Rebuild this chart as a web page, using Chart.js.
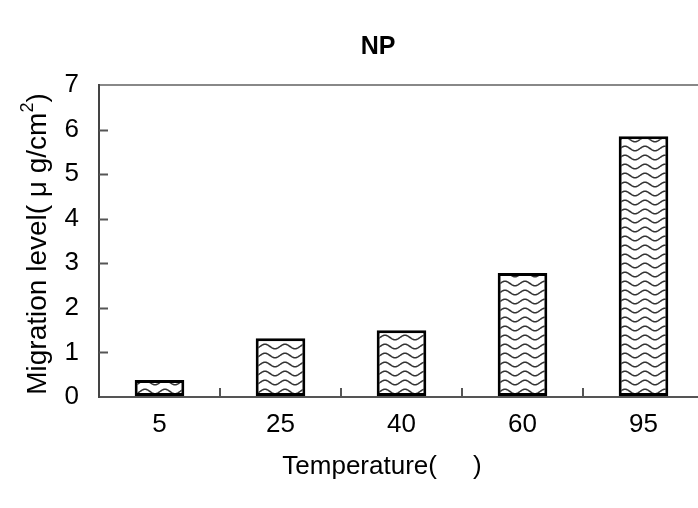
<!DOCTYPE html>
<html>
<head>
<meta charset="utf-8">
<script src="https://cdn.jsdelivr.net/npm/chart.js@4"></script>
<style>
  html, body { margin: 0; padding: 0; background: #fff; overflow: hidden; }
  canvas { display: block; }
</style>
</head>
<body>
<canvas id="grafico" width="704" height="508"></canvas>
<script>
// Datos del gráfico
const temperaturas = ['5', '25', '40', '60', '95'];
const migracion = [0.38, 1.32, 1.50, 2.78, 5.85];
const ticksY = [0, 1, 2, 3, 4, 5, 6, 7];

const fuente = '"Liberation Sans", Arial, sans-serif';
const tamFuente = 26;

// Patrón ondulado para rellenar las barras
function crearPatron() {
    const c = document.createElement('canvas');
    c.width = 20;
    c.height = 9;
    const g = c.getContext('2d');
    g.fillStyle = '#fff';
    g.fillRect(0, 0, 20, 9);
    g.strokeStyle = '#333';
    g.lineWidth = 1.6;
    g.beginPath();
    for (let x = 0; x <= 20; x++) {
        const y = 4.5 - 2.3 * Math.sin(2 * Math.PI * x / 20);
        if (x === 0) g.moveTo(x, y); else g.lineTo(x, y);
    }
    g.stroke();
    return g.createPattern(c, 'repeat');
}

// Marcas hacia dentro y títulos
const extras = {
    id: 'extras',
    afterDraw(chart) {
        const ctx = chart.ctx;
        const x = chart.scales.x;
        const y = chart.scales.y;
        const area = chart.chartArea;
        ctx.save();
        ctx.strokeStyle = '#555';
        ctx.lineWidth = 2;
        ticksY.slice(1, -1).forEach(v => {
            const py = Math.round(y.getPixelForValue(v)) + 0.5;
            ctx.beginPath();
            ctx.moveTo(area.left, py);
            ctx.lineTo(area.left + 9, py);
            ctx.stroke();
        });
        for (let i = 0; i < temperaturas.length - 1; i++) {
            const px = Math.round(x.getPixelForValue(i + 0.5));
            ctx.beginPath();
            ctx.moveTo(px, area.bottom);
            ctx.lineTo(px, area.bottom - 9);
            ctx.stroke();
        }
        ctx.fillStyle = '#000';
        ctx.textAlign = 'center';
        ctx.textBaseline = 'middle';
        ctx.font = 'bold 25px ' + fuente;
        ctx.fillText('NP', 378, 47);
        ctx.font = tamFuente + 'px ' + fuente;
        ctx.fillText('Temperature(     )', 382, 467);

        // título del eje Y con superíndice
        const tamTitulo = 28;
        ctx.translate(38, (area.top + area.bottom) / 2 + 3);
        ctx.rotate(-Math.PI / 2);
        const parte1 = 'Migration level( μ g/cm';
        const parte3 = ')';
        ctx.font = tamTitulo + 'px ' + fuente;
        const w1 = ctx.measureText(parte1).width;
        const w3 = ctx.measureText(parte3).width;
        ctx.font = '18px ' + fuente;
        const w2 = ctx.measureText('2').width;
        let inicio = -(w1 + w2 + w3) / 2;
        ctx.textAlign = 'left';
        ctx.font = tamTitulo + 'px ' + fuente;
        ctx.fillText(parte1, inicio, 0);
        ctx.font = '18px ' + fuente;
        ctx.fillText('2', inicio + w1, -10);
        ctx.font = tamTitulo + 'px ' + fuente;
        ctx.fillText(parte3, inicio + w1 + w2, 0);
        ctx.restore();
    }
};

new Chart(document.getElementById('grafico').getContext('2d'), {
    type: 'bar',
    data: {
        labels: temperaturas,
        datasets: [{
            data: migracion,
            backgroundColor: crearPatron(),
            borderColor: '#000',
            borderWidth: 3,
            borderSkipped: false,
            categoryPercentage: 1,
            barPercentage: 0.41
        }]
    },
    options: {
        responsive: false,
        animation: false,
        devicePixelRatio: 1,
        layout: { padding: { top: 85, left: 0, right: 0, bottom: 0 } },
        plugins: { legend: { display: false }, tooltip: { enabled: false }, title: { display: false } },
        scales: {
            x: {
                grid: { display: false, drawTicks: false },
                border: { display: true, color: '#555', width: 2 },
                ticks: { color: '#000', font: { family: fuente, size: tamFuente }, padding: 12, maxRotation: 0 },
                afterFit(scale) { scale.height = 111; }
            },
            y: {
                min: 0,
                max: 7,
                afterBuildTicks(scale) { scale.ticks = ticksY.map(v => ({ value: v })); },
                grid: {
                    drawTicks: false,
                    color: ctx => ctx.tick && ctx.tick.value === 7 ? '#888' : 'rgba(0,0,0,0)',
                    lineWidth: 2
                },
                border: { display: true, color: '#444', width: 2 },
                ticks: { color: '#000', font: { family: fuente, size: tamFuente }, padding: 20 },
                afterFit(scale) { scale.width = 99; }
            }
        }
    },
    plugins: [extras]
});
</script>
</body>
</html>
